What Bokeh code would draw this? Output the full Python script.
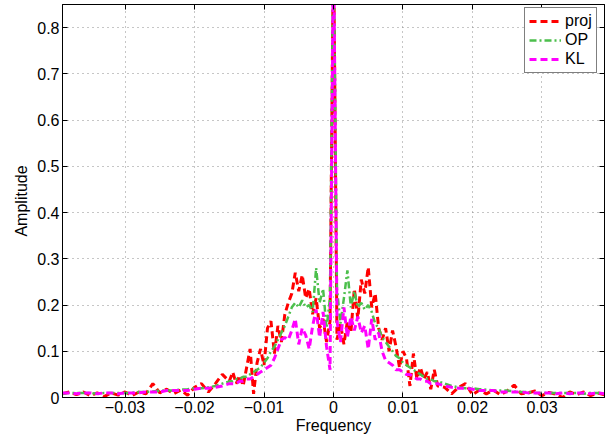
from bokeh.plotting import figure
from bokeh.models import LinearAxis, FixedTicker, Range1d, Legend, LegendItem
from bokeh.embed import file_html
from bokeh.resources import INLINE

# Frequency bins: coarse in the tails, finer around the centre
freq_left = [-0.039, -0.038, -0.037, -0.036, -0.035, -0.034, -0.033, -0.032,
             -0.031, -0.030, -0.029, -0.028, -0.027, -0.026, -0.025, -0.024,
             -0.023, -0.022, -0.021, -0.020, -0.019, -0.018, -0.017, -0.016]
freq_mid = [-0.0150, -0.0145, -0.0140, -0.0135, -0.0130, -0.0125, -0.0120, -0.0115,
            -0.0110, -0.0105, -0.0100, -0.0095, -0.0090, -0.0085, -0.0080, -0.0075,
            -0.0070, -0.0065, -0.0060, -0.0055, -0.0050, -0.0045, -0.0040, -0.0035,
            -0.0030, -0.0025, -0.0020, -0.0015, -0.0010, -0.0005, 0.0000,
            0.0005, 0.0010, 0.0015, 0.0020, 0.0025, 0.0030, 0.0035, 0.0040,
            0.0045, 0.0050, 0.0055, 0.0060, 0.0065, 0.0070, 0.0075, 0.0080,
            0.0085, 0.0090, 0.0095, 0.0100, 0.0105, 0.0110, 0.0115, 0.0120,
            0.0125, 0.0130, 0.0135, 0.0140, 0.0145, 0.0150]
freq_right = [0.016, 0.017, 0.018, 0.019, 0.020, 0.021, 0.022, 0.023,
              0.024, 0.025, 0.026, 0.027, 0.028, 0.029, 0.030, 0.031,
              0.032, 0.033, 0.034, 0.035, 0.036, 0.037, 0.038, 0.039]

proj_left = [0.008, 0.012, 0.006, 0.012, 0.004, 0.010, 0.002, 0.010,
             0.005, 0.012, 0.004, 0.012, 0.008, 0.030, 0.010, 0.018,
             0.008, 0.016, 0.005, 0.022, 0.030, 0.012, 0.030, 0.050]
proj_mid = [0.035, 0.055, 0.030, 0.048, 0.025, 0.065, 0.105, 0.008,
            0.075, 0.105, 0.070, 0.150, 0.165, 0.095, 0.155, 0.120,
            0.180, 0.205, 0.225, 0.270, 0.230, 0.265, 0.215, 0.235,
            0.180, 0.215, 0.150, 0.170, 0.120, 0.165, 1.000,
            0.125, 0.160, 0.115, 0.165, 0.140, 0.235, 0.170, 0.255,
            0.225, 0.282, 0.195, 0.225, 0.150, 0.125, 0.150, 0.100,
            0.145, 0.110, 0.065, 0.100, 0.085, 0.025, 0.095, 0.040,
            0.065, 0.040, 0.055, 0.018, 0.060, 0.025]
proj_right = [0.022, 0.008, 0.022, 0.030, 0.006, 0.016, 0.008, 0.016,
              0.006, 0.014, 0.027, 0.008, 0.010, 0.014, 0.004, 0.011,
              0.007, 0.000, 0.012, 0.006, 0.012, 0.004, 0.010, 0.006]

op_left = [0.008, 0.010, 0.010, 0.010, 0.010, 0.008, 0.010, 0.010,
           0.010, 0.010, 0.010, 0.012, 0.012, 0.013, 0.015, 0.015,
           0.015, 0.017, 0.018, 0.020, 0.020, 0.022, 0.025, 0.030]
op_mid = [0.035, 0.035, 0.040, 0.040, 0.045, 0.045, 0.050, 0.055,
          0.060, 0.065, 0.075, 0.085, 0.100, 0.110, 0.125, 0.140,
          0.155, 0.175, 0.195, 0.205, 0.195, 0.210, 0.195, 0.200,
          0.185, 0.280, 0.205, 0.235, 0.150, 0.215, 1.000,
          0.235, 0.160, 0.215, 0.275, 0.195, 0.230, 0.195, 0.205,
          0.190, 0.200, 0.185, 0.160, 0.150, 0.130, 0.120, 0.110,
          0.100, 0.090, 0.085, 0.075, 0.070, 0.065, 0.060, 0.055,
          0.050, 0.045, 0.040, 0.040, 0.035, 0.035]
op_right = [0.030, 0.025, 0.022, 0.020, 0.020, 0.018, 0.017, 0.015,
            0.015, 0.015, 0.013, 0.012, 0.012, 0.010, 0.010, 0.010,
            0.010, 0.010, 0.010, 0.010, 0.008, 0.010, 0.010, 0.008]

kl_left = [0.010, 0.010, 0.008, 0.010, 0.010, 0.008, 0.010, 0.010,
           0.008, 0.010, 0.010, 0.010, 0.012, 0.012, 0.012, 0.015,
           0.015, 0.015, 0.015, 0.018, 0.020, 0.020, 0.022, 0.025]
kl_mid = [0.030, 0.030, 0.030, 0.035, 0.035, 0.040, 0.040, 0.045,
          0.050, 0.055, 0.060, 0.065, 0.070, 0.085, 0.105, 0.125,
          0.130, 0.125, 0.145, 0.170, 0.115, 0.150, 0.135, 0.105,
          0.155, 0.190, 0.130, 0.185, 0.110, 0.060, 1.000,
          0.165, 0.120, 0.195, 0.130, 0.175, 0.145, 0.175, 0.140,
          0.155, 0.105, 0.170, 0.125, 0.140, 0.100, 0.080, 0.075,
          0.070, 0.060, 0.060, 0.055, 0.050, 0.050, 0.045, 0.040,
          0.040, 0.035, 0.035, 0.030, 0.030, 0.030]
kl_right = [0.025, 0.022, 0.020, 0.020, 0.018, 0.015, 0.015, 0.015,
            0.012, 0.012, 0.012, 0.012, 0.010, 0.010, 0.010, 0.010,
            0.008, 0.010, 0.008, 0.010, 0.010, 0.008, 0.010, 0.008]

x_ticks = [-0.03, -0.02, -0.01, 0.0, 0.01, 0.02, 0.03]
x_tick_labels = ["\u22120.03", "\u22120.02", "\u22120.01", "0", "0.01", "0.02", "0.03"]
y_ticks = [0.0, 0.1, 0.2, 0.3, 0.4, 0.5, 0.6, 0.7, 0.8]
y_tick_labels = ["0", "0.1", "0.2", "0.3", "0.4", "0.5", "0.6", "0.7", "0.8"]

series_names = ["proj", "OP", "KL"]
series_colors = ["#ff0000", "#4cbf4c", "#ff00ff"]

freq = freq_left + freq_mid + freq_right
proj = proj_left + proj_mid + proj_right
op = op_left + op_mid + op_right
kl = kl_left + kl_mid + kl_right

FONT = "Liberation Sans"
FONT_SIZE = "16px"

p = figure(width=613, height=438, output_backend="svg", toolbar_location=None,
           x_range=Range1d(-0.039, 0.039), y_range=Range1d(0, 0.85),
           min_border_left=62, min_border_right=9, min_border_top=4, min_border_bottom=41)
p.background_fill_color = "white"
p.border_fill_color = "white"
p.outline_line_color = "black"
p.outline_line_width = 1

r_proj = p.line(freq, proj, line_color=series_colors[0], line_width=3, line_dash="7 4")
r_op = p.line(freq, op, line_color=series_colors[1], line_width=2.5, line_dash="7 3 2 3")
r_kl = p.line(freq, kl, line_color=series_colors[2], line_width=3, line_dash="7 4")

def style_axis(ax, ticks, labels=None):
    ax.ticker = FixedTicker(ticks=ticks)
    ax.major_tick_in = 5
    ax.major_tick_out = 0
    ax.minor_tick_line_color = None
    ax.axis_line_color = "black"
    ax.major_tick_line_color = "black"
    if labels is None:
        # tick marks only on the mirrored frame edges
        ax.major_label_text_color = None
        ax.major_label_text_font_size = "1px"
        ax.major_label_standoff = 0
    else:
        ax.major_label_overrides = dict(zip(ticks, labels))
        ax.major_label_text_font = FONT
        ax.major_label_text_font_size = FONT_SIZE
        ax.major_label_text_color = "black"
    ax.axis_label_text_font = FONT
    ax.axis_label_text_font_size = FONT_SIZE
    ax.axis_label_text_font_style = "normal"
    ax.axis_label_text_color = "black"

style_axis(p.xaxis[0], x_ticks, x_tick_labels)
style_axis(p.yaxis[0], y_ticks, y_tick_labels)
p.xaxis[0].axis_label = "Frequency"
p.yaxis[0].axis_label = "Amplitude"
p.xaxis[0].major_label_standoff = 3
p.xaxis[0].axis_label_standoff = 1
p.yaxis[0].major_label_standoff = 3
p.yaxis[0].axis_label_standoff = 4

top_ax = LinearAxis()
right_ax = LinearAxis()
style_axis(top_ax, x_ticks)
style_axis(right_ax, y_ticks)
p.add_layout(top_ax, "above")
p.add_layout(right_ax, "right")

p.xgrid.ticker = FixedTicker(ticks=x_ticks)
p.ygrid.ticker = FixedTicker(ticks=y_ticks)
for g in (p.xgrid[0], p.ygrid[0]):
    g.grid_line_color = "#8c8c8c"
    g.grid_line_dash = "1 4"
    g.grid_line_width = 1

legend = Legend(items=[LegendItem(label=series_names[0], renderers=[r_proj]),
                       LegendItem(label=series_names[1], renderers=[r_op]),
                       LegendItem(label=series_names[2], renderers=[r_kl])],
                location=(462, 324))
legend.label_text_font = FONT
legend.label_text_font_size = FONT_SIZE
legend.label_text_color = "black"
legend.glyph_width = 32
legend.glyph_height = 18
legend.label_height = 18
legend.label_standoff = 4
legend.spacing = 1
legend.padding = 4
legend.margin = 0
legend.border_line_color = "black"
legend.border_line_width = 1
legend.background_fill_alpha = 1
p.add_layout(legend)

open("out.html", "w").write(file_html(p, INLINE))
